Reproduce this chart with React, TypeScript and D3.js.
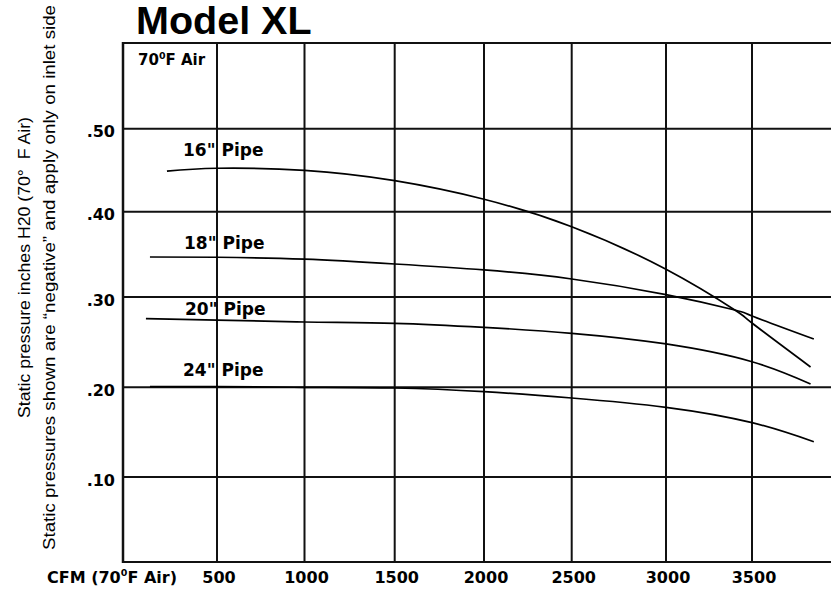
import React from "react";
import * as d3 from "d3";

const xTicks = [500, 1000, 1500, 2000, 2500, 3000, 3500];
const xTickLabels = ["500", "1000", "1500", "2000", "2500", "3000", "3500"];
const yTicks = [0.1, 0.2, 0.3, 0.4, 0.5];
const yTickLabels = [".10", ".20", ".30", ".40", ".50"];

const seriesNames = ['16"', '18"', '20"', '24"'];

const pipe16CFM = [214, 500, 1000, 1500, 2000, 2500, 3000, 3400, 3500, 3841];
const pipe16SP = [0.449, 0.4524, 0.4498, 0.4374, 0.415, 0.3824, 0.3325, 0.2856, 0.2712, 0.2225];

const pipe18CFM = [117, 500, 1000, 1500, 2000, 2500, 3000, 3400, 3500, 3860];
const pipe18SP = [0.3469, 0.3466, 0.3443, 0.3387, 0.3317, 0.3211, 0.3027, 0.2856, 0.279, 0.2535];

const pipe20CFM = [94, 500, 1000, 1500, 2000, 2500, 3000, 3500, 3841];
const pipe20SP = [0.276, 0.2745, 0.2723, 0.2709, 0.2664, 0.2598, 0.248, 0.2283, 0.2037];

const pipe24CFM = [117, 500, 1000, 1500, 2000, 2500, 3000, 3500, 3860];
const pipe24SP = [0.2007, 0.2007, 0.2, 0.1992, 0.1951, 0.1881, 0.1777, 0.1606, 0.1393];

const W = 831;
const H = 593;

// hand-drawn grid: polylinear scales calibrated on the printed grid lines
const xMin = -37;
const xMax = 3960;
const x = d3
  .scaleLinear()
  .domain([xMin, 500, 1000, 1500, 2000, 2500, 3000, 3500, xMax])
  .range([123, 217, 304.5, 394.7, 484, 571.7, 666, 752, 831]);

const yMin = 0;
const yMax = 0.6;
const y = d3
  .scaleLinear()
  .domain([yMin, 0.1, 0.2, 0.3, 0.4, 0.5, yMax])
  .range([562, 477, 387.3, 297, 211.7, 128.8, 43]);

const series = [
  { cfm: pipe16CFM, sp: pipe16SP },
  { cfm: pipe18CFM, sp: pipe18SP },
  { cfm: pipe20CFM, sp: pipe20SP },
  { cfm: pipe24CFM, sp: pipe24SP },
];

// label placement (annotation layout)
const labelPos = [
  { x: 183, y: 156 },
  { x: 184, y: 249 },
  { x: 185, y: 315 },
  { x: 183, y: 376 },
];

const line = d3
  .line<[number, number]>()
  .x((d) => x(d[0]))
  .y((d) => y(d[1]))
  .curve(d3.curveNatural);

const boldFont = "'DejaVu Sans', sans-serif";
const sansFont = "'Liberation Sans', Arial, sans-serif";

export default function App() {
  const x0 = x(xMin);
  const x1 = x(xMax);
  const yTop = y(yMax);
  const yBot = y(yMin);
  return (
    <svg
      width={W}
      height={H}
      viewBox={`0 0 ${W} ${H}`}
      style={{ position: "absolute", left: 0, top: 0, background: "#fff" }}
    >
      <rect x={0} y={0} width={W} height={H} fill="#fff" />
      {/* title */}
      <text
        x={136}
        y={34}
        fontFamily={sansFont}
        fontWeight="bold"
        fontSize={39.5}
        fill="#000"
      >
        Model XL
      </text>

      {/* frame */}
      <line x1={x0} x2={x1} y1={yTop} y2={yTop} stroke="#111" strokeWidth={2} />
      <line x1={x0} x2={x1} y1={yBot} y2={yBot} stroke="#111" strokeWidth={2} />
      <line x1={x0} x2={x0} y1={yTop - 1} y2={yBot + 1} stroke="#111" strokeWidth={2.5} />

      {/* grid */}
      {yTicks.map((t) => (
        <line key={"h" + t} x1={x0} x2={x1} y1={y(t)} y2={y(t)} stroke="#111" strokeWidth={2} />
      ))}
      {xTicks.map((t) => (
        <line key={"v" + t} x1={x(t)} x2={x(t)} y1={yTop} y2={yBot} stroke="#111" strokeWidth={2} />
      ))}

      {/* curves */}
      {series.map((s, i) => (
        <path
          key={"s" + i}
          d={line(s.cfm.map((c, j) => [c, s.sp[j]] as [number, number])) || ""}
          fill="none"
          stroke="#000"
          strokeWidth={1.7}
        />
      ))}

      {/* pipe labels */}
      {seriesNames.map((n, i) => (
        <text
          key={"l" + i}
          x={labelPos[i].x}
          y={labelPos[i].y}
          fontFamily={boldFont}
          fontWeight="bold"
          fontSize={17}
          fill="#000"
          style={{ whiteSpace: "pre" }}
        >
          {n + " Pipe"}
        </text>
      ))}

      {/* 70F Air box label */}
      <text x={138} y={65} fontFamily={boldFont} fontWeight="bold" fontSize={15} fill="#000">
        <tspan>70</tspan>
        <tspan dy={-6} fontSize={9.5}>0</tspan>
        <tspan dy={6}>F Air</tspan>
      </text>

      {/* y tick labels */}
      {yTicks.map((t, i) => (
        <text
          key={"yt" + t}
          x={115}
          y={y(t) + 8.5}
          textAnchor="end"
          fontFamily={boldFont}
          fontWeight="bold"
          fontSize={16}
          fill="#000"
        >
          {yTickLabels[i]}
        </text>
      ))}

      {/* x tick labels */}
      {xTicks.map((t, i) => (
        <text
          key={"xt" + t}
          x={x(t) + 2}
          y={583}
          textAnchor="middle"
          fontFamily={boldFont}
          fontWeight="bold"
          fontSize={16}
          fill="#000"
        >
          {xTickLabels[i]}
        </text>
      ))}

      {/* x axis title */}
      <text x={47} y={583} fontFamily={boldFont} fontWeight="bold" fontSize={16} fill="#000">
        <tspan>CFM (70</tspan>
        <tspan dy={-7} fontSize={9.5}>0</tspan>
        <tspan dy={7}>F Air)</tspan>
      </text>

      {/* y axis titles */}
      <text
        transform="translate(30,267.5) rotate(-90)"
        textAnchor="middle"
        fontFamily={sansFont}
        fontSize={17}
        fill="#000"
        textLength={301}
        lengthAdjust="spacingAndGlyphs"
        style={{ whiteSpace: "pre" }}
      >
        {"Static pressure inches H20 (70°  F Air)"}
      </text>
      <text
        transform="translate(55,277.5) rotate(-90)"
        textAnchor="middle"
        fontFamily={sansFont}
        fontSize={17}
        fill="#000"
        textLength={545}
        lengthAdjust="spacingAndGlyphs"
      >
        {"Static pressures shown are \u201cnegative\u201d and apply only on inlet side"}
      </text>
    </svg>
  );
}
